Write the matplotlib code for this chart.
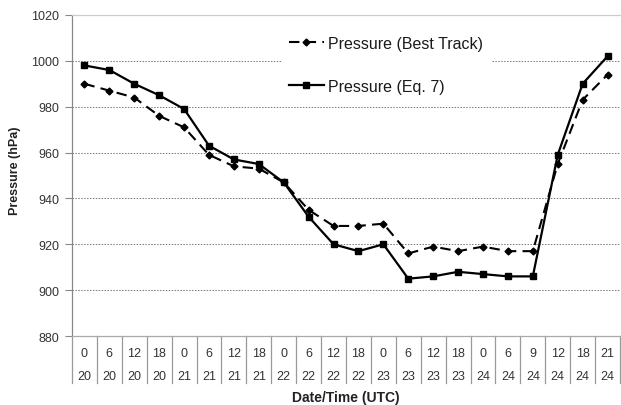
import numpy as np
import matplotlib
matplotlib.use("Agg")
import matplotlib.pyplot as plt
import matplotlib.transforms as mtransforms

plt.rcParams['font.family'] = ['Liberation Sans', 'DejaVu Sans']

hours = ["0", "6", "12", "18", "0", "6", "12", "18", "0", "6", "12", "18",
         "0", "6", "12", "18", "0", "6", "9", "12", "18", "21"]
days = ["20", "20", "20", "20", "21", "21", "21", "21", "22", "22", "22", "22",
        "23", "23", "23", "23", "24", "24", "24", "24", "24", "24"]

best_track = [990, 987, 984, 976, 971, 959, 954, 953, 947, 935, 928, 928,
              929, 916, 919, 917, 919, 917, 917, 955, 983, 994]
eq7 = [998, 996, 990, 985, 979, 963, 957, 955, 947, 932, 920, 917,
       920, 905, 906, 908, 907, 906, 906, 959, 990, 1002]

yticks = [880, 900, 920, 940, 960, 980, 1000, 1020]

fig = plt.figure(figsize=(6.21, 4.06), dpi=100)
ax = fig.add_axes([72 / 621, 69 / 406, 548 / 621, 321 / 406])

x = np.arange(len(hours))
ax.plot(x, best_track, color='black', lw=1.5, ls=(0, (5, 3)),
        marker='D', ms=3.5, label='Pressure (Best Track)')
ax.plot(x, eq7, color='black', lw=1.6, ls='-',
        marker='s', ms=4.5, label='Pressure (Eq. 7)')

ax.set_xlim(-0.5, len(hours) - 0.5)
ax.set_ylim(880, 1020)
ax.set_yticks(yticks)
ax.set_xticks([])
ax.tick_params(axis='y', labelsize=9, labelcolor='#333333', color='#888888',
               length=5, width=0.8, pad=4)
for y in yticks[1:-1]:
    ax.axhline(y, color='#777777', lw=0.7, ls=(0, (1.5, 1.5)), zorder=0)

ax.spines['right'].set_visible(False)
ax.spines['left'].set_color('#888888')
ax.spines['bottom'].set_color('#aaaaaa')
ax.spines['top'].set_color('#cccccc')
for side in ['left', 'bottom', 'top']:
    ax.spines[side].set_linewidth(0.9)

# category table under the axis
trans = mtransforms.blended_transform_factory(ax.transData, ax.transAxes)
for i in range(len(hours) + 1):
    ax.plot([i - 0.5, i - 0.5], [0, -0.147], transform=trans, color='#999999',
            lw=0.9, clip_on=False)
for i in range(len(hours)):
    ax.text(i, -0.053, hours[i], transform=trans, ha='center', va='center',
            fontsize=9, color='#333333')
    ax.text(i, -0.125, days[i], transform=trans, ha='center', va='center',
            fontsize=9, color='#333333')

fig.text(346 / 621, 1 - 398 / 406, 'Date/Time (UTC)', ha='center', va='center',
         fontsize=10, fontweight='bold', color='#222222')
fig.text(15 / 621, 1 - 171 / 406, 'Pressure (hPa)', ha='center', va='center',
         rotation=90, fontsize=9, fontweight='bold', color='#222222')

leg = ax.legend(loc='upper left', bbox_to_anchor=(0.366, 0.985), frameon=True,
                fontsize=11.5, handlelength=2.2, handletextpad=0.25,
                labelspacing=1.75, borderpad=0.5, labelcolor='#1a1a1a')
leg.get_frame().set_edgecolor('none')
leg.get_frame().set_facecolor('white')
leg.get_frame().set_alpha(1)

fig.savefig('out.png', dpi=100)
